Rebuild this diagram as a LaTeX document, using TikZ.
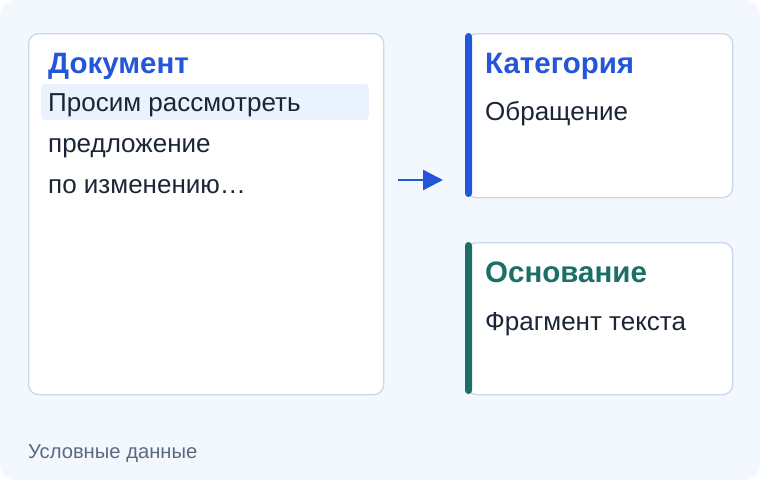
\documentclass[tikz,border=0pt]{standalone}
\usepackage{fontspec}
\setmainfont{Liberation Sans}
\usetikzlibrary{positioning,arrows.meta}

\definecolor{pagebg}{HTML}{F3F7FE}
\definecolor{edge}{HTML}{C9D8EA}
\definecolor{rowbg}{HTML}{EAF2FD}
\definecolor{accentblue}{HTML}{2356D8}
\definecolor{accentteal}{HTML}{1B6F67}
\definecolor{inkdark}{HTML}{1B2536}
\definecolor{inkgray}{HTML}{5B6B7F}

\tikzset{
    card/.style={draw=edge, line width=1.3pt, fill=white, rounded corners=10pt,
        anchor=north west, inner sep=0pt},
    heading/.style={anchor=base west, inner sep=0pt, font=\fontsize{29.5}{34}\selectfont\bfseries},
    bodytext/.style={anchor=base west, inner sep=0pt, text=inkdark, font=\fontsize{26}{30}\selectfont},
    flow/.style={-{Triangle[length=20pt,width=20pt]}, line width=2.5pt, draw=accentblue}
}

\newcommand{\AccentBar}[3]{
    \fill[#1, rounded corners=3.5pt] (465,#2) rectangle (472,#3);
}

\begin{document}
\begin{tikzpicture}[x=1pt,y=-1pt]
    \useasboundingbox (0,0) rectangle (760,480);
    \fill[pagebg, rounded corners=16pt] (0,0) rectangle (760,480);

    % document card
    \node[card, minimum width=355pt, minimum height=361pt] (doc) at (28,33) {};
    \fill[rowbg, rounded corners=4pt] (41,84) rectangle (369,120);
    \node[heading, text=accentblue] (doctitle) at (48,73) {Документ};
    \node[bodytext] (line1) at (48,111) {Просим рассмотреть};
    \node[bodytext] (line2) at (48,152) {предложение};
    \node[bodytext] (line3) at (48,193) {по изменению…};

    % result cards
    \node[card, minimum width=266pt, minimum height=164pt] (cat) at (466,33) {};
    \AccentBar{accentblue}{33}{197}
    \node[heading, text=accentblue] (cattitle) at (485,73) {Категория};
    \node[bodytext] (catvalue) at (485,120) {Обращение};

    \node[card, minimum width=266pt, minimum height=152pt] (basis) at (466,242) {};
    \AccentBar{accentteal}{242}{394}
    \node[heading, text=accentteal] (basistitle) at (485,282) {Основание};
    \node[bodytext] (basisvalue) at (485,330) {Фрагмент текста};

    \coordinate (from) at (398,180);
    \coordinate (to) at (443,180);
    \draw[flow] (from) -- (to);

    \node[anchor=base west, inner sep=0pt, text=inkgray, font=\fontsize{20.2}{24}\selectfont] (note) at (28,458) {Условные данные};
\end{tikzpicture}
\end{document}
